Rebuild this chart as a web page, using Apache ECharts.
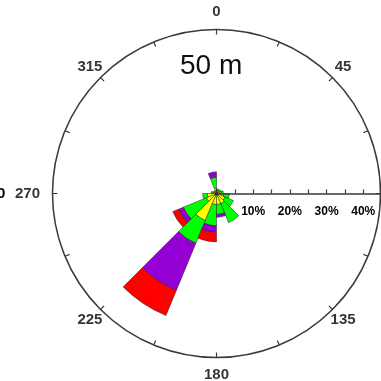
<!DOCTYPE html>
<html><head><meta charset="utf-8">
<script src="https://cdn.jsdelivr.net/npm/echarts@6/dist/echarts.min.js"></script>
<style>html,body{margin:0;padding:0;background:#fff}#c{width:381px;height:381px}</style>
</head><body><div id="c"></div>
<script>
const directions = ['N','NNE','NE','ENE','E','ESE','SE','SSE','S','SSW','SW','WSW','W','WNW','NW','NNW'];
const classNames = ['c0','c1','c2','c3','c4'];
const classColors = ['#141432','#ffff00','#00ff00','#9400d3','#ff0000'];
const seg0 = [0.5,0.5,0.5,0.5,0.5,0.5,0.5,0.5,0.5,0.6,0.5,0.5,0.5,0.4,0.4,0.5];
const seg1 = [0.4,0.4,0.5,0.8,1.5,2.0,2.5,2.5,2.5,7.4,2.5,2.0,0.6,0.3,0.3,1.0];
const seg2 = [0.4,0.3,0.4,0.6,1.5,2.5,5.6,2.7,5.8,6.7,6.8,1.3,0.4,0.3,0.2,2.9];
const seg3 = [0,0,0,0,0,0,0,0.8,1.8,13.9,1.4,0,0,0,0,1.5];
const seg4 = [0,0,0,0,0,0,0,0,2.6,7.4,1.7,0,0,0,0,0];
const segments = [seg0, seg1, seg2, seg3, seg4];
const angleTickLabels = ['0','45','135','180','225','270','315'];
const radiusTickLabels = ['10%','20%','30%','40%'];
const titleText = '50 m';
const radiusMax = 44.7;

const chart = echarts.init(document.getElementById('c'), null, {renderer:'canvas'});
const center = [216.5, 193.5];
const R = 164;
const axisColor = '#3a3a3a';
const labelFont = {fontFamily: 'Liberation Sans, Arial', fontWeight: 'bold', color: '#000'};
// label gap (px) beyond the circle, by label
function labelGap(l) { const c = Number(l); if (l === '270') return 25; return (c % 90 === 0) ? 17.5 : 15; }

const series = segments.map((arr, i) => ({
  type: 'bar', name: classNames[i], coordinateSystem: 'polar', polarIndex: 1,
  stack: 'w', barCategoryGap: '0%',
  data: arr.map(v => v === 0 ? '-' : v),
  itemStyle: {color: classColors[i], borderColor: '#222', borderWidth: 0.5},
  silent: true, animation: false, z: 2
}));
series.push({
  type: 'scatter', coordinateSystem: 'polar', polarIndex: 0, symbolSize: 1, clip: false, silent: true, z: 6,
  itemStyle: {color: 'rgba(0,0,0,0)'},
  data: angleTickLabels.map(l => ({value: [(R + labelGap(l)) / R * radiusMax, (Number(l) + 270) % 360], name: l})),
  label: Object.assign({show: true, position: 'inside', fontSize: 15, formatter: p => p.name}, labelFont)
});
chart.setOption({
  animation: false,
  title: {text: titleText, left: 175, top: 47,
    textStyle: {fontFamily: 'Liberation Sans, Arial', fontSize: 28, fontWeight: 'normal', color: '#111'}},
  polar: [{center: center, radius: R}, {center: center, radius: R}],
  angleAxis: [{
    polarIndex: 0, type: 'value', min: 0, max: 360, interval: 22.5, startAngle: 0, clockwise: true,
    axisLine: {show: true, lineStyle: {color: axisColor, width: 1.5}},
    axisTick: {show: true, inside: true, length: 5, lineStyle: {color: axisColor, width: 1.2}},
    axisLabel: {show: false},
    splitLine: {show: false}
  }, {
    polarIndex: 1, type: 'category', data: directions, startAngle: 90, clockwise: true, show: false
  }],
  radiusAxis: [{
    polarIndex: 0, type: 'value', min: 0, max: radiusMax, interval: 5, z: 5,
    axisLine: {show: true, lineStyle: {color: axisColor, width: 1.5}},
    axisTick: {show: true, length: 4, lineStyle: {color: axisColor, width: 1.2}},
    axisLabel: Object.assign({show: true, margin: -12, verticalAlign: 'top', fontSize: 12,
      formatter: v => { const s = Math.round(v) + '%'; return (Math.abs(v - Math.round(v)) < 1e-6 && radiusTickLabels.includes(s)) ? s : ''; }}, labelFont),
    splitLine: {show: false}
  }, {
    polarIndex: 1, type: 'value', min: 0, max: radiusMax, show: false
  }],
  graphic: [{type: 'text', left: -3, top: 186, style: {text: '0', fontSize: 15, fontWeight: 'bold', fontFamily: 'Liberation Sans, Arial', fill: '#000'}}],
  series: series
});
</script></body></html>
